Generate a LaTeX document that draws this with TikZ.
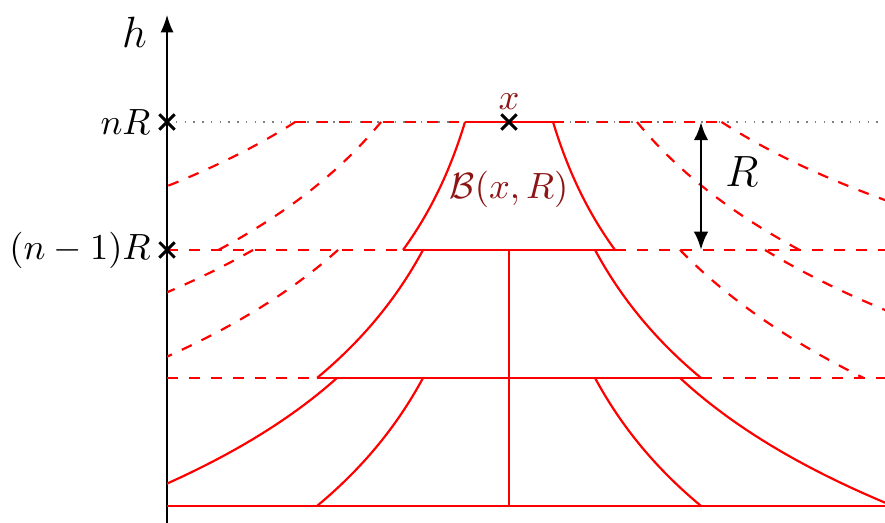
\documentclass[tikz,border=0pt]{standalone}
\usepackage{amsmath,amssymb}
\usepackage{tikz}
\usetikzlibrary{arrows.meta,positioning,calc,shapes.misc}
\definecolor{ballred}{RGB}{140,20,20}
% one side of a cell: offset #2 at the top (height #4) grows to #3 one level lower
\newcommand{\wall}[4]{\draw[#1] plot[domain=0:1,samples=30]
  ({(#2)*pow((#3)/(#2),\x)},{#4-\x});}
\tikzset{
  cell/.style={red,semithick},
  ghost/.style={cell,dashed},
  lvl/.style={gray,dotted},
  crossmk/.style={draw,cross out,thick,minimum size=3.4pt,inner sep=0pt},
  lbl/.style={font=\normalsize},
}

\begin{document}
\begin{tikzpicture}[x=1.233cm,y=1.233cm]
    \useasboundingbox (-3.977,-0.133) rectangle (2.9375,3.953);
    % axis
    \coordinate (ax0) at (-2.672,-0.133);
    \coordinate (axtop) at (-2.672,3.836);
    \coordinate (rgt) at (2.9375,0);
    \draw[-{Latex}] (ax0) -- (axtop);
    \node[left=2pt,font=\large] (hlbl) at (-2.672,3.70) {$h$};
    % level nR
    \draw[lvl] (-2.672,3) -- (2.9375,3);
    \begin{scope}
      \clip (-2.672,-0.2) rectangle (2.9375,3.5);
      % horizontal levels
      \draw[ghost] (-1.67,3) -- (-0.344,3);
      \draw[cell] (-0.344,3) -- (0.344,3);
      \draw[ghost] (0.344,3) -- (1.65,3);
      \draw[ghost] (-2.672,2) -- (-0.828,2);
      \draw[cell] (-0.828,2) -- (0.828,2);
      \draw[ghost] (0.828,2) -- (2.9375,2);
      \draw[ghost] (-2.672,1) -- (-1.5,1);
      \draw[cell] (-1.5,1) -- (1.5,1);
      \draw[ghost] (1.5,1) -- (2.9375,1);
      \draw[cell] (-2.672,0) -- (2.9375,0);
      % top band
      \wall{cell}{-0.344}{-0.828}{3}
      \wall{cell}{0.344}{0.828}{3}
      \wall{ghost}{-1.0}{-2.27}{3}
      \wall{ghost}{-1.67}{-4.26}{3}
      \wall{ghost}{1.0}{2.27}{3}
      \wall{ghost}{1.66}{4.23}{3}
      % middle band
      \draw[cell] (0,2) -- (0,0);
      \wall{cell}{-0.672}{-1.5}{2}
      \wall{cell}{0.672}{1.5}{2}
      \wall{ghost}{-1.336}{-3.07}{2}
      \wall{ghost}{1.336}{2.77}{2}
      \wall{ghost}{-2.0}{-4.8}{2}
      \wall{ghost}{2.0}{4.54}{2}
      % bottom band
      \wall{cell}{-0.672}{-1.5}{1}
      \wall{cell}{0.672}{1.5}{1}
      \wall{cell}{-1.344}{-3.09}{1}
      \wall{cell}{1.336}{3.0}{1}
    \end{scope}
    % marks and labels
    \node[crossmk] (mn) at (-2.672,3) {};
    \node[crossmk] (mn1) at (-2.672,2) {};
    \node[crossmk] (mx) at (0,3) {};
    \node[left=1pt] (ln) at (mn) {$nR$};
    \node[left=1pt] (ln1) at (mn1) {$(n-1)R$};
    \node[above=0pt,text=ballred] (lx) at (mx) {$x$};
    \node[text=ballred] (ball) at (0,2.47) {$\mathcal{B}(x,R)$};
    % the height R
    \coordinate (rtop) at (1.5,3);
    \coordinate (rbot) at (1.5,2);
    \draw[{Latex[length=5pt,width=4pt]}-{Latex[length=5pt,width=4pt]},thick] (rtop) -- (rbot);
    \node[font=\large] (rlbl) at (1.82,2.61) {$R$};
\end{tikzpicture}
\end{document}
